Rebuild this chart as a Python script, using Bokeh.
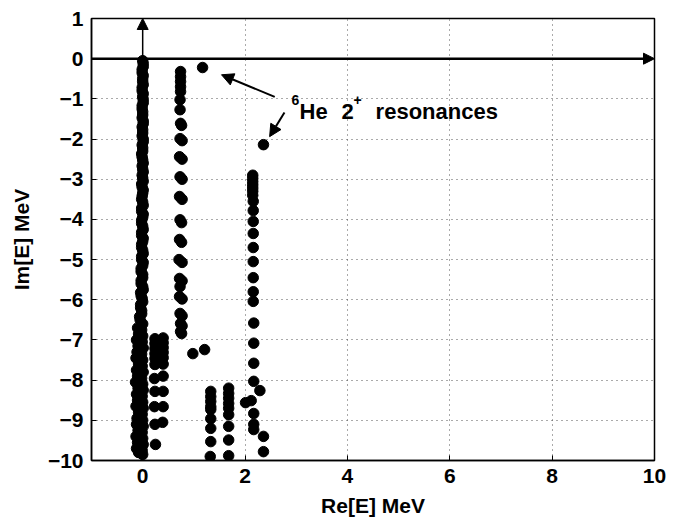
from bokeh.plotting import figure
from bokeh.models import Arrow, NormalHead, Label, FixedTicker
from bokeh.embed import file_html
from bokeh.resources import INLINE

# ---- data ----
# dense column at Re ~ 0 (upper part), two interleaved sets
col0_up_y = [-0.05, -0.2, -0.35, -0.5, -0.65, -0.8, -0.95, -1.1, -1.25, -1.4, -1.55, -1.7,
             -1.85, -2.0, -2.15, -2.3, -2.45, -2.6, -2.75, -2.9, -3.05, -3.2, -3.35, -3.5,
             -3.65, -3.8, -3.95, -4.1, -4.25, -4.4, -4.55, -4.7, -4.85, -5.0, -5.15, -5.3,
             -5.45, -5.6, -5.75, -5.9, -6.05, -6.2, -6.35, -6.5]
col0_up_x = [0.0, 0.01, -0.01, 0.0, 0.01, -0.01, 0.0, 0.01, -0.01, 0.0, 0.01, -0.01,
             0.0, 0.01, -0.01, 0.0, -0.01, 0.01, 0.0, -0.01, 0.01, -0.01, 0.0, -0.02,
             0.01, -0.02, 0.0, -0.02, 0.01, -0.02, 0.0, -0.02, 0.01, -0.02, 0.0, -0.03,
             0.0, -0.03, 0.01, -0.03, 0.0, -0.04, -0.02, -0.05]
col0_up2_y = [-0.12, -0.27, -0.42, -0.57, -0.72, -0.87, -1.02, -1.17, -1.32, -1.47, -1.62,
              -1.77, -1.92, -2.07, -2.22, -2.37, -2.52, -2.67, -2.82, -2.97, -3.12, -3.27,
              -3.42, -3.57, -3.72, -3.87, -4.02, -4.17, -4.32, -4.47, -4.62, -4.77, -4.92,
              -5.07, -5.22, -5.37, -5.52, -5.67, -5.82, -5.97, -6.12, -6.27, -6.42]
col0_up2_x = [0.01, -0.01, 0.01, 0.0, -0.01, 0.01, 0.01, -0.01, 0.0, -0.01, 0.01, 0.0,
              -0.01, 0.01, 0.0, -0.02, 0.0, -0.01, 0.01, 0.0, -0.02, 0.01, -0.01, 0.0,
              -0.02, 0.01, -0.02, 0.0, -0.02, 0.01, -0.02, 0.0, -0.02, 0.01, -0.03, 0.0,
              -0.03, 0.0, -0.04, -0.01, -0.04, -0.02, -0.06]
# dense column at Re ~ 0 (lower, spread part)
col0_lo_y = [-6.6, -6.75, -6.9, -7.05, -7.2, -7.35, -7.5, -7.65, -7.8, -7.95, -8.1, -8.25,
             -8.4, -8.55, -8.7, -8.85, -9.0, -9.15, -9.3, -9.45, -9.6, -9.75, -9.85,
             -6.68, -6.83, -6.98, -7.13, -7.28, -7.43, -7.58, -7.73, -7.88, -8.03, -8.18,
             -8.33, -8.48, -8.63, -8.78, -8.93, -9.08, -9.23, -9.38, -9.53, -9.68, -9.8,
             -6.7, -6.85, -7.0, -7.15, -7.3, -7.45, -7.6, -7.75, -7.9, -8.05, -8.2, -8.35,
             -8.5, -8.65, -8.8, -8.95, -9.1, -9.25, -9.4, -9.55, -9.7, -9.8]
col0_lo_x = [0.0, -0.02, 0.0, -0.01, 0.01, -0.02, 0.0, -0.01, 0.01, -0.02, 0.0, 0.01,
             -0.01, 0.0, 0.01, -0.01, 0.0, 0.01, -0.01, 0.0, 0.01, -0.01, 0.0,
             -0.05, -0.04, -0.06, -0.05, -0.04, -0.06, -0.05, -0.04, -0.06, -0.05, -0.04,
             -0.06, -0.05, -0.04, -0.06, -0.05, -0.04, -0.06, -0.05, -0.04, -0.06, -0.05,
             -0.1, -0.08, -0.12, -0.09, -0.11, -0.13, -0.08, -0.12, -0.1, -0.14, -0.09, -0.12,
             -0.1, -0.13, -0.08, -0.11, -0.12, -0.09, -0.13, -0.1, -0.12, -0.08]
# column at Re ~ 0.75 (main dots and their slightly offset partners)
col1_x = [0.74, 0.74, 0.74, 0.74, 0.74, 0.73, 0.73, 0.74, 0.73, 0.72, 0.73, 0.72, 0.73,
          0.72, 0.71, 0.72, 0.73, 0.72, 0.73, 0.74, 0.74]
col1_y = [-0.32, -0.45, -0.57, -0.7, -0.82, -1.02, -1.27, -1.61, -1.99, -2.44, -2.94, -3.43,
          -4.01, -4.5, -5.0, -5.47, -5.67, -5.92, -6.34, -6.59, -6.79]
col1b_x = [0.76, 0.77, 0.77, 0.77, 0.77, 0.76, 0.76, 0.77, 0.77, 0.77, 0.77, 0.77, 0.76]
col1b_y = [-1.66, -2.04, -2.5, -3.0, -3.5, -4.08, -4.57, -5.07, -5.53, -5.98, -6.4, -6.65, -6.84]
# two columns at Re ~ 0.24 and 0.40
col2_x = [0.24, 0.24, 0.24, 0.24, 0.24, 0.24, 0.23, 0.24, 0.23, 0.24, 0.25,
          0.40, 0.40, 0.40, 0.40, 0.40, 0.40, 0.40, 0.40, 0.40, 0.39]
col2_y = [-6.97, -7.09, -7.21, -7.34, -7.46, -7.61, -7.96, -8.28, -8.66, -9.1, -9.6,
          -6.95, -7.07, -7.19, -7.31, -7.44, -7.6, -7.9, -8.28, -8.66, -9.05]
# isolated pair near -7.3
iso_x = [0.98, 1.21]
iso_y = [-7.34, -7.24]
# columns at Re ~ 1.33 and 1.68
col3_x = [1.33, 1.33, 1.33, 1.33, 1.33, 1.33, 1.33, 1.33, 1.32,
          1.68, 1.68, 1.68, 1.68, 1.68, 1.68, 1.68, 1.68, 1.68]
col3_y = [-8.28, -8.41, -8.53, -8.66, -8.73, -8.96, -9.2, -9.53, -9.9,
          -8.2, -8.33, -8.45, -8.58, -8.7, -8.86, -9.15, -9.49, -9.88]
# column at Re ~ 2.15
col4_x = [2.15, 2.15, 2.15, 2.15, 2.15, 2.15, 2.15, 2.16, 2.16, 2.16, 2.16, 2.16, 2.16,
          2.16, 2.16, 2.16, 2.17, 2.17, 2.17, 2.29, 2.12, 2.01, 2.17, 2.17, 2.17, 2.17, 2.36]
col4_y = [-2.9, -2.98, -3.06, -3.14, -3.22, -3.3, -3.4, -3.55, -3.78, -4.05, -4.35, -4.7,
          -5.05, -5.45, -5.8, -6.04, -6.58, -7.08, -7.58, -8.26, -8.51, -8.56, -8.03,
          -8.83, -9.1, -9.23, -9.4]
col4b_x = [2.36]
col4b_y = [-9.78]
# 6He 2+ resonances
res_x = [1.17, 2.36]
res_y = [-0.22, -2.14]

x_ticks = [0, 2, 4, 6, 8, 10]
y_ticks = [1, 0, -1, -2, -3, -4, -5, -6, -7, -8, -9, -10]
y_tick_labels = ["1", "0", "\u22121", "\u22122", "\u22123", "\u22124", "\u22125",
                 "\u22126", "\u22127", "\u22128", "\u22129", "\u221210"]

FONT = "Liberation Sans"

p = figure(x_range=(-1, 10), y_range=(-10, 1), frame_width=563, frame_height=442,
           min_border_left=91, min_border_top=18, min_border_right=21, min_border_bottom=60,
           output_backend="svg", toolbar_location=None, background_fill_color="white",
           border_fill_color="white")
p.outline_line_color = "black"
p.outline_line_width = 1.5

for ax in (p.xaxis[0], p.yaxis[0]):
    ax.major_label_text_font = FONT
    ax.major_label_text_font_style = "bold"
    ax.major_label_text_font_size = "21px"
    ax.major_label_text_color = "black"
    ax.axis_label_text_font = FONT
    ax.axis_label_text_font_style = "bold"
    ax.axis_label_text_font_size = "21px"
    ax.axis_label_text_color = "black"
    ax.major_tick_in = 5
    ax.major_tick_out = 0
    ax.minor_tick_in = 0
    ax.minor_tick_out = 0
    ax.axis_line_color = "black"
    ax.axis_line_width = 1.5
    ax.major_tick_line_color = "black"

p.xaxis.ticker = FixedTicker(ticks=x_ticks)
p.yaxis.ticker = FixedTicker(ticks=y_ticks)
p.yaxis.major_label_overrides = {t: l for t, l in zip(y_ticks, y_tick_labels)}
p.xaxis.axis_label = "Re[E] MeV"
p.yaxis.axis_label = "Im[E] MeV"
p.xaxis.major_label_standoff = 8
p.yaxis.major_label_standoff = 8
p.xaxis.axis_label_standoff = 8
p.yaxis.axis_label_standoff = 12

p.grid.grid_line_color = "#555555"
p.grid.grid_line_dash = "1 4"
p.grid.grid_line_width = 1

# axes through the origin with arrows
p.add_layout(Arrow(x_start=-1, y_start=0, x_end=10, y_end=0, line_width=2.5, line_color="black",
                   end=NormalHead(size=11, fill_color="black", line_color="black")))
p.add_layout(Arrow(x_start=0, y_start=0, x_end=0, y_end=1, line_width=1.5, line_color="black",
                   end=NormalHead(size=11, fill_color="black", line_color="black")))

S = 10.5
for xs, ys in [(col0_up_x, col0_up_y), (col0_up2_x, col0_up2_y), (col0_lo_x, col0_lo_y),
               (col1_x, col1_y), (col1b_x, col1b_y), (col2_x, col2_y), (iso_x, iso_y),
               (col3_x, col3_y), (col4_x, col4_y), (col4b_x, col4b_y), (res_x, res_y)]:
    p.scatter(xs, ys, size=S, color="black", marker="circle")

# annotation
p.add_layout(Arrow(x_start=2.58, y_start=-0.95, x_end=1.54, y_end=-0.40, line_width=2,
                   end=NormalHead(size=12, fill_color="black", line_color="black")))
p.add_layout(Arrow(x_start=2.77, y_start=-1.34, x_end=2.48, y_end=-1.94, line_width=2,
                   end=NormalHead(size=12, fill_color="black", line_color="black")))
lab_kw = dict(text_font=FONT, text_font_style="bold", text_color="black",
              text_baseline="alphabetic")
AX = 2.91
p.add_layout(Label(x=AX, y=-1.02, x_offset=0, text="6", text_font_size="14px", **lab_kw))
p.add_layout(Label(x=AX, y=-1.32, x_offset=8, text="He", text_font_size="22px", **lab_kw))
p.add_layout(Label(x=AX, y=-1.32, x_offset=50, text="2", text_font_size="22px", **lab_kw))
p.add_layout(Label(x=AX, y=-1.02, x_offset=62, text="+", text_font_size="14px", **lab_kw))
p.add_layout(Label(x=AX, y=-1.32, x_offset=84, text="resonances", text_font_size="22px",
                   **lab_kw))

open("out.html", "w").write(file_html(p, INLINE))
